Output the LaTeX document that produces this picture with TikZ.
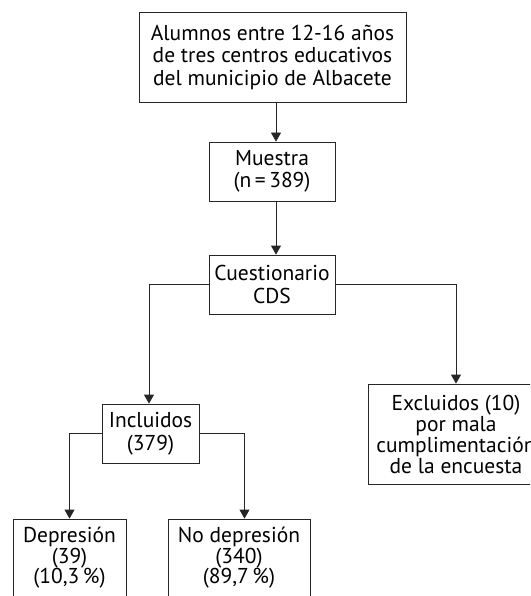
\documentclass[tikz,border=0pt]{standalone}
\usepackage{fontspec}
\setmainfont{PT Sans}
\usetikzlibrary{arrows.meta,positioning}

\tikzset{
  flowbox/.style={draw=black!85, line width=0.8pt, align=center, inner sep=0pt,
    font=\fontsize{21.5}{22.5}\selectfont},
  flowarrow/.style={draw=black!85, line width=0.8pt, -{Triangle[width=10pt,length=9pt]}}
}

\begin{document}
\begin{tikzpicture}[x=1pt,y=-1pt]
  \useasboundingbox (0,0) rectangle (530,596);
  \clip (0,0) rectangle (530,596);
  % boxes
  \node[flowbox, minimum width=267pt, minimum height=90pt] (alumnos) at (272.5,57)
    {Alumnos entre 12-16 años\\de tres centros educativos\\del municipio de Albacete};
  \node[flowbox, minimum width=126pt, minimum height=59pt] (muestra) at (272,171.5)
    {Muestra\\(n\,=\,389)};
  \node[flowbox, minimum width=126pt, minimum height=59pt] (cuestionario) at (272,284.5)
    {Cuestionario\\CDS};
  \node[flowbox, minimum width=97pt, minimum height=59pt] (incluidos) at (150.5,433.5)
    {Incluidos\\(379)};
  \node[flowbox, font=\fontsize{21.5}{21}\selectfont, minimum width=176pt, minimum height=100pt] (excluidos) at (456,434)
    {Excluidos (10)\\por mala\\cumplimentación\\de la encuesta};
  \node[flowbox, font=\fontsize{21.5}{20.5}\selectfont, minimum width=113pt, minimum height=78pt] (depresion) at (69.5,558)
    {Depresión\\(39)\\(10,3\,\%)};
  \node[flowbox, font=\fontsize{21.5}{20.5}\selectfont, minimum width=142pt, minimum height=78pt] (nodepresion) at (239,558)
    {No depresión\\(340)\\(89,7\,\%)};
  % connectors
  \draw[flowarrow] ([xshift=3.5pt]alumnos.south) -- ([xshift=4pt]muestra.north);
  \draw[flowarrow] ([xshift=4pt]muestra.south) -- ([xshift=4pt]cuestionario.north);
  \draw[flowarrow] (cuestionario.west) -| ([xshift=-1.5pt]incluidos.north);
  \draw[flowarrow] (cuestionario.east) -| (excluidos.north);
  \draw[flowarrow] (incluidos.west) -| (depresion.north);
  \draw[flowarrow] (incluidos.east) -| ([xshift=5.5pt]nodepresion.north);
\end{tikzpicture}
\end{document}
